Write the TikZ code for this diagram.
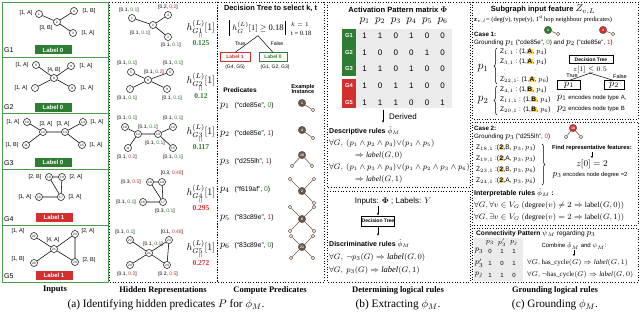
\documentclass[tikz,border=0pt]{standalone}
\usepackage{fontspec}
\usepackage{amsmath,amssymb}
\setmainfont{Liberation Serif}
\setsansfont{Liberation Sans}
\usetikzlibrary{arrows.meta,decorations.pathreplacing}
\definecolor{mygreen}{HTML}{2E7D32}
\definecolor{myred}{HTML}{D32F2F}
\definecolor{mybrown}{HTML}{6B5646}
\definecolor{panelgreen}{HTML}{4E9A4E}
\definecolor{hlyellow}{HTML}{FFD54F}
\definecolor{mgray}{HTML}{EBEBEB}
\newcommand{\gv}[1]{\textcolor{mygreen}{#1}}
\newcommand{\rv}[1]{\textcolor{myred}{#1}}
\newcommand{\fsz}[1]{\fontsize{#1}{#1}\selectfont}
\newcommand{\hlt}[1]{{\setlength{\fboxsep}{0.4pt}\colorbox{hlyellow}{\textbf{#1}}}}
\begin{document}
\begin{tikzpicture}[x=1pt,y=-1pt,
  gnode/.style={circle,draw,line width=0.5pt,fill=white,inner sep=0pt,minimum size=7pt,font=\sffamily\fsz{3.2}},
  glab/.style={inner sep=0pt,font=\sffamily\fsz{5.5}},
  hlab/.style={inner sep=0pt,font=\sffamily\fsz{5}},
  gedge/.style={line width=0.55pt},
  gbox/.style={draw=panelgreen,line width=0.9pt},
  gname/.style={anchor=west,inner sep=0pt,font=\sffamily\fsz{7}},
  lzero/.style={fill=mygreen,text=white,font=\sffamily\bfseries\fsz{6},minimum width=37pt,minimum height=9pt,inner sep=0pt},
  lone/.style={lzero,fill=myred},
  dbox/.style={draw,dotted,line width=0.7pt},
  sect/.style={font=\bfseries\fsz{8.5},inner sep=0pt},
  capt/.style={font=\fsz{11.3},inner sep=0pt},
  hval/.style={inner sep=0pt,font=\fsz{10}},
  ttl/.style={inner sep=0pt,font=\sffamily\bfseries\fsz{7.4}},
  txt/.style={inner sep=0pt,anchor=west,font=\sffamily\fsz{6.6}},
  rule/.style={inner sep=0pt,anchor=west,font=\fsz{7.6}},
  inode/.style={circle,fill=mybrown,draw=black!70,line width=0.3pt,text=white,inner sep=0pt,minimum size=7.5pt,font=\sffamily\bfseries\fsz{3.5}},
  icirc/.style={circle,draw=mybrown,fill=white,inner sep=0pt,minimum size=3.6pt,line width=0.5pt},
  iedge/.style={draw=mybrown,line width=0.6pt},
  arr/.style={-{Latex[length=2.4pt,width=2pt]},line width=0.45pt},
  mval/.style={inner sep=0pt,font=\sffamily\fsz{8}}
]
\useasboundingbox (0,0) rectangle (640,313);

%================ (a) Inputs =================
\draw[gbox] (2,2) rectangle (108,57);
\draw[gbox] (2,57) rectangle (108,113);
\draw[gbox] (2,113) rectangle (108,169);
\draw[gbox] (2,169) rectangle (108,225);
\draw[gbox] (2,225) rectangle (108,282);

% G1
\node[gnode] (i1) at (39,14) {1};
\node[gnode] (i2) at (57,22) {2};
\node[gnode] (i4) at (74,11) {4};
\node[gnode] (i3) at (73,33) {3};
\draw[gedge] (i1)--(i2) (i2)--(i4) (i2)--(i3);
\node[glab] (il1) at (26,13) {[1, A]};
\node[glab] (il2) at (46,28) {[3, B]};
\node[glab] (il4) at (89,11) {[1, B]};
\node[glab] (il3) at (88,33) {[1, A]};
\node[gname] (gn1) at (4,50) {G1};
\node[lzero] (lb1) at (53,50) {Label 0};

% G2
\node[gnode] (i5) at (36,65) {5};
\node[gnode] (i6) at (54,78) {6};
\node[gnode] (i8) at (71,66) {8};
\node[gnode] (i7) at (35,88) {7};
\node[gnode] (i9) at (72,88) {9};
\draw[gedge] (i5)--(i6) (i6)--(i8) (i6)--(i7) (i6)--(i9);
\node[glab] (il5) at (22,65) {[1, A]};
\node[glab] (il6) at (54,70.5) {[4, B]};
\node[glab] (il8) at (86,66) {[1, A]};
\node[glab] (il7) at (21,88) {[1, A]};
\node[glab] (il9) at (87,88) {[1, A]};
\node[gname] (gn2) at (4,107) {G2};
\node[lzero] (lb2) at (53,107) {Label 0};

% G3
\node[gnode] (i10) at (27,122) {10};
\node[gnode] (i12) at (43,132) {12};
\node[gnode] (i13) at (65,132) {13};
\node[gnode] (i14) at (83,122) {14};
\node[gnode] (i11) at (26,145) {11};
\node[gnode] (i15) at (82,145) {15};
\draw[gedge] (i10)--(i12) (i12)--(i13) (i13)--(i14) (i12)--(i11) (i13)--(i15);
\node[glab] (il10) at (13,122) {[1, A]};
\node[glab] (il12) at (46,124) {[3, A]};
\node[glab] (il13) at (63,124) {[3, A]};
\node[glab] (il14) at (97,122) {[1, A]};
\node[glab] (il11) at (12,145) {[1, B]};
\node[glab] (il15) at (96,145) {[1, A]};
\node[gname] (gn3) at (4,163) {G3};
\node[lzero] (lb3) at (53,162) {Label 0};

% G4
\node[gnode] (i18) at (49,177) {18};
\node[gnode] (i19) at (62,177) {19};
\node[gnode] (i16) at (39,197) {16};
\node[gnode] (i17) at (61,197) {17};
\draw[gedge] (i18)--(i19) (i18)--(i17) (i19)--(i17) (i16)--(i17);
\node[glab] (il18) at (35,177) {[2, B]};
\node[glab] (il19) at (76,177) {[2, A]};
\node[glab] (il16) at (25,197) {[1, A]};
\node[glab] (il17) at (75,197) {[3, A]};
\node[gname] (gn4) at (4,219) {G4};
\node[lone] (lb4) at (54,217) {Label 1};

% G5
\node[gnode] (i22) at (34,236) {22};
\node[gnode] (i21) at (54,249) {21};
\node[gnode] (i23) at (75,234) {23};
\node[gnode] (i20) at (34,263) {20};
\node[gnode] (i24) at (75,262) {24};
\draw[gedge] (i22)--(i21) (i21)--(i23) (i21)--(i20) (i21)--(i24) (i23)--(i24);
\node[glab] (il22) at (18,231) {[1, A]};
\node[glab] (il21) at (53,240) {[4, A]};
\node[glab] (il23) at (88,231) {[2, A]};
\node[glab] (il20) at (18,259) {[1, B]};
\node[glab] (il24) at (89,260) {[2, B]};
\node[gname] (gn5) at (4,276) {G5};
\node[lone] (lb5) at (54,275) {Label 1};

%================ Hidden representations =================
\draw[dbox] (109,2) rectangle (217,282);
% G1
\node[gnode] (h1) at (132,18) {1};
\node[gnode] (h2) at (153,25) {2};
\node[gnode] (h4) at (168,15) {4};
\node[gnode] (h3) at (168,37) {3};
\draw[gedge] (h1)--(h2) (h2)--(h4) (h2)--(h3);
\node[hlab] (hl1) at (129,10) {[0.1, \gv{0.1}]};
\node[hlab] (hl4) at (168,7) {[0.2, \rv{0.2}]};
\node[hlab] (hl2) at (140,33) {[0.1, \gv{0.1}]};
\node[hlab] (hl3) at (171,45) {[0.1, \gv{0.1}]};
% G2
\node[gnode] (h5) at (131,72) {5};
\node[gnode] (h6) at (148,80) {6};
\node[gnode] (h8) at (170,72) {8};
\node[gnode] (h7) at (130,89) {7};
\node[gnode] (h9) at (167,89) {9};
\draw[gedge] (h5)--(h6) (h6)--(h8) (h6)--(h7) (h6)--(h9);
\node[hlab] (hl5) at (127,63) {[0.1, \gv{0.1}]};
\node[hlab] (hl8) at (173,63) {[0.1, \gv{0.1}]};
\node[hlab] (hl6) at (154,72) {[0.1, \rv{0.2}]};
\node[hlab] (hl7) at (127,98) {[0.1, \gv{0.1}]};
\node[hlab] (hl9) at (172,98) {[0.1, \gv{0.1}]};
% G3
\node[gnode] (h10) at (125,127) {10};
\node[gnode] (h12) at (138,134) {12};
\node[gnode] (h13) at (158,134) {13};
\node[gnode] (h14) at (173,127) {14};
\node[gnode] (h11) at (128,148) {11};
\node[gnode] (h15) at (173,148) {15};
\draw[gedge] (h10)--(h12) (h12)--(h13) (h13)--(h14) (h12)--(h11) (h13)--(h15);
\node[hlab] (hl10) at (127,118) {[0.1, \gv{0.1}]};
\node[hlab] (hl14) at (173,118) {[0.1, \gv{0.1}]};
\node[hlab] (hl12) at (148,127) {[0.1, \gv{0.1}]};
\node[hlab] (hl13) at (155,143) {[0.1, \gv{0.1}]};
\node[hlab] (hl11) at (127,157) {[0.1, \rv{0.2}]};
\node[hlab] (hl15) at (173,157) {[0.1, \gv{0.1}]};
% G4
\node[gnode] (h18) at (150,182) {18};
\node[gnode] (h19) at (162,182) {19};
\node[gnode] (h16) at (143,202) {16};
\node[gnode] (h17) at (163,202) {17};
\draw[gedge] (h18)--(h19) (h18)--(h17) (h19)--(h17) (h16)--(h17);
\node[hlab] (hl18) at (131,182) {[0.3, \rv{0.5}]};
\node[hlab] (hl19) at (172,173) {[0.3, \rv{0.48}]};
\node[hlab] (hl16) at (126,202) {[0.1, \gv{0.1}]};
\node[hlab] (hl17) at (165,211) {[0.3, \gv{0.1}]};
% G5
\node[gnode] (h22) at (130,240) {22};
\node[gnode] (h21) at (149,253) {21};
\node[gnode] (h23) at (169,240) {23};
\node[gnode] (h20) at (130,265) {20};
\node[gnode] (h24) at (167,265) {24};
\draw[gedge] (h22)--(h21) (h21)--(h23) (h21)--(h20) (h21)--(h24) (h23)--(h24);
\node[hlab] (hl22) at (125,232) {[0.1, \gv{0.1}]};
\node[hlab] (hl23) at (172,232) {[0.1, \rv{0.48}]};
\node[hlab] (hl21) at (153,244) {[0.1, \gv{0.1}]};
\node[hlab] (hl20) at (127,274) {[0.1, \rv{0.2}]};
\node[hlab] (hl24) at (168,274) {[0.2, \rv{0.5}]};
% h values
\foreach \i/\y/\v/\c in {1/27/0.125/mygreen,2/80/0.12/mygreen,3/131/0.117/mygreen,4/192/0.295/myred,5/247/0.272/myred}{
  \node[hval] (hx\i) at (201,\y) {$h^{(L)}_{G\i}[1]$};
  \node[inner sep=0pt,font=\fsz{6}] (he\i) at (201,{\y+8.5}) {\rotatebox{90}{$=$}};
  \node[inner sep=0pt,font=\bfseries\fsz{7.5},text=\c] (hv\i) at (201,{\y+16}) {\v};
}

%================ Compute predicates =================
\draw[dbox] (217,2) rectangle (324,282);
\node[ttl] (dtt) at (270.5,8.5) {Decision Tree to select k, t};
\node[draw,double,double distance=0.6pt,line width=0.4pt,minimum width=56pt,minimum height=15pt,inner sep=0pt,font=\fsz{8.5}] (dt) at (258,28) {$h^{(L)}_{G}[1] \geq$ 0.18};
\node[inner sep=0pt,font=\fsz{6.5},anchor=west] (kk) at (291,24.5) {$k=1$};
\node[inner sep=0pt,font=\fsz{6.5},anchor=west] (tt) at (291,33) {t = 0.18};
\node[draw=myred,text=myred,line width=0.6pt,minimum width=30pt,minimum height=8.5pt,inner sep=0pt,font=\sffamily\bfseries\fsz{5}] (dl1) at (235,57) {Label 1};
\node[draw=mygreen,text=mygreen,line width=0.6pt,minimum width=28pt,minimum height=8.5pt,inner sep=0pt,font=\sffamily\bfseries\fsz{5}] (dl0) at (273,57) {Label 0};
\draw[line width=0.5pt] (dt.south) -- (dl1.north);
\draw[line width=0.5pt] (dt.south) -- (dl0.north);
\node[inner sep=0pt,font=\sffamily\fsz{5.2}] (tr) at (240,44) {True};
\node[inner sep=0pt,font=\sffamily\fsz{5.2}] (fa) at (277,44) {False};
\node[inner sep=0pt,font=\sffamily\fsz{5}] (g45) at (235,67) {(G4, G5)};
\node[inner sep=0pt,font=\sffamily\fsz{5}] (g123) at (275,67) {(G1, G2, G3)};
\node[inner sep=0pt,font=\sffamily\bfseries\fsz{6.6}] (predh) at (240,90) {Predicates};
\node[inner sep=0pt,align=center,font=\sffamily\bfseries\fsz{5.6}] (exh) at (303,89) {Example\\[-0.3pt]Instance};
\foreach \k/\y/\s/\n in {1/106/cde85e/\gv{0},2/134/cde85e/\rv{1},3/162/d255lh/\rv{1},4/190/f619af/\gv{0},5/218/83c89e/\rv{1},6/246/83c89e/\gv{0}}{
  \node[inner sep=0pt,anchor=west] (pp\k) at (220,\y) {\fsz{10}$p_{\k}$\ \ \sffamily\fsz{6.8}(“\s”, \n)};
}
% icons
\node[inode] (q1) at (302,103) {1};
\node[icirc] (q1a) at (313,110) {};
\draw[iedge] (q1)--(q1a);
\node[inode] (q2) at (302,130) {4};
\node[icirc] (q2a) at (313,138) {};
\draw[iedge] (q2)--(q2a);
\node[inode] (q3) at (302,155) {18};
\node[icirc] (q3a) at (292,166) {};
\node[icirc] (q3b) at (312,166) {};
\draw[iedge] (q3)--(q3a) (q3)--(q3b);
\node[inode] (q4) at (302,191) {2};
\node[icirc] (q4a) at (290,179) {};
\node[icirc] (q4b) at (314,179) {};
\node[icirc] (q4c) at (314,203) {};
\draw[iedge] (q4)--(q4a) (q4)--(q4b) (q4)--(q4c);
\node[inode] (q5) at (302,219) {6};
\node[icirc] (q5a) at (290,207) {};
\node[icirc] (q5b) at (314,207) {};
\node[icirc] (q5c) at (290,231) {};
\node[icirc] (q5d) at (314,231) {};
\draw[iedge] (q5)--(q5a) (q5)--(q5b) (q5)--(q5c) (q5)--(q5d);
\node[inode] (q6) at (302,247) {21};
\node[icirc] (q6a) at (291,236) {};
\node[icirc] (q6b) at (313,236) {};
\node[icirc] (q6c) at (291,258) {};
\node[icirc] (q6d) at (313,258) {};
\draw[iedge] (q6)--(q6a) (q6)--(q6b) (q6)--(q6c) (q6)--(q6d);

\node[sect] (s1) at (55,290) {Inputs};
\node[sect] (s2) at (163,290) {Hidden Representations};
\node[sect] (s3) at (270,290) {Compute Predicates};
\node[capt] (ca) at (166,305) {(a) Identifying hidden predicates $P$ for $\phi_M$.};

%================ (b) =================
\draw[dbox] (327,2) rectangle (470,187);
\draw[dbox] (327,191) rectangle (470,282);
\node[ttl,font=\sffamily\bfseries\fsz{7.6}] (apt) at (398,10) {Activation Pattern matrix $\boldsymbol{\Phi}$};
\fill[mgray] (356,29) rectangle (452,108);
\fill[mygreen] (342,29) rectangle (356,76.5);
\fill[myred] (342,79) rectangle (356,108);
\foreach \c in {1,...,6}{
  \node[inner sep=0pt,font=\fsz{10.5}] (ph\c) at ({349+15.6*\c},21) {$p_{\c}$};
}
\foreach \r/\y/\vals in {1/36/{1,1,0,1,0,0},2/52.5/{1,0,0,0,1,0},3/69/{1,1,0,1,0,0},4/86/{1,0,1,1,0,0},5/102.5/{1,1,1,0,0,1}}{
  \node[inner sep=0pt,text=white,font=\sffamily\bfseries\fsz{5.8}] (rg\r) at (349,\y) {G\r};
  \foreach \v [count=\c] in \vals {
    \node[mval] (m\r-\c) at ({349+15.6*\c},\y) {\v};
  }
}
\coordinate (dA) at (383,110);
\coordinate (dB) at (383,123);
\draw[arr] (dA) -- (dB);
\node[inner sep=0pt,anchor=west,font=\sffamily\fsz{8}] (der) at (389,116.5) {Derived};
\node[inner sep=0pt,anchor=west,font=\sffamily\bfseries\fsz{7}] (desc) at (329,131) {Descriptive rules $\hat{\phi}_M$};
\node[rule] (r1) at (329,143.5) {$\forall G,\ (p_1\wedge p_2\wedge p_4){\vee}(p_1\wedge p_5)$};
\node[rule] (r2) at (355,155.5) {$\Rightarrow \mathit{label}(G,0)$};
\node[rule] (r3) at (329,167.5) {$\forall G,\ (p_1\wedge p_3\wedge p_4){\vee}(p_1\wedge p_2\wedge p_3\wedge p_6)$};
\node[rule] (r4) at (355,179.5) {$\Rightarrow \mathit{label}(G,1)$};
\node[inner sep=0pt,font=\sffamily\fsz{8}] (inl) at (393,201) {Inputs: $\boldsymbol{\Phi}$ ;\ Labels: $Y$};
\coordinate (dC) at (378,206);
\node[draw,line width=0.5pt,minimum width=32pt,minimum height=10pt,inner sep=0pt,font=\sffamily\bfseries\fsz{5}] (dtb) at (378,221) {Decision Tree};
\coordinate (dD) at (378,236);
\draw[arr] (dC) -- (dtb.north);
\draw[arr] (dtb.south) -- (dD);
\node[inner sep=0pt,anchor=west,font=\sffamily\bfseries\fsz{7}] (disc) at (329,244) {Discriminative rules $\hat{\phi}_M$};
\node[rule,font=\fsz{8.5}] (r5) at (329,257) {$\forall G,\ \neg p_3(G) \Rightarrow \mathit{label}(G,0)$};
\node[rule,font=\fsz{8.5}] (r6) at (329,270) {$\forall G,\ p_3(G) \Rightarrow \mathit{label}(G,1)$};
\node[sect] (s4) at (398,290) {Determining logical rules};
\node[capt] (cb) at (398,305) {(b) Extracting $\phi_M$.};

%================ (c) =================
\draw[dbox] (472,2) rectangle (638,119);
\draw[dbox] (472,122) rectangle (638,225);
\draw[dbox] (472,228) rectangle (638,282);
\node[ttl,font=\sffamily\bfseries\fsz{7.5}] (sgt) at (543,10) {Subgraph input feature {\fsz{10}$Z_{v,L}$}};
\node[inner sep=0pt,anchor=west,font=\fsz{6.5}] (zl) at (474,20) {$\mathbf{z}_{v,l}$= (deg(v), type(v), 1$^{\text{st}}$ hop neighbour predicates)};
\node[inode,fill=mygreen] (k1) at (548,30) {1};
\node[icirc] (k1a) at (558,34) {};
\draw[iedge] (k1)--(k1a);
\node[inode,fill=myred] (k4) at (603,30) {4};
\node[icirc] (k4a) at (613,34) {};
\draw[iedge] (k4)--(k4a);
\node[txt,font=\sffamily\bfseries\fsz{6.2}] (c1) at (474,34) {Case 1:};
\node[txt,font=\sffamily\fsz{6.3}] (gr1) at (474,43) {Grounding {\fsz{9}$p_1$} (“cde85e”, \gv{0}) and {\fsz{9}$p_2$} (“cde85e”, \rv{1})};
\node[inner sep=0pt,font=\fsz{12}] (bp1l) at (483,68) {$p_1$};
\draw[decorate,decoration={brace,amplitude=3pt},line width=0.5pt] (497,84) -- (497,48);
\node[txt] (z1) at (500,52) {Z$_{1,1}$ :\ (1,\hlt{A}, $p_4$)};
\node[txt] (z3) at (500,62) {Z$_{3,1}$ :\ (1,\hlt{A}, $p_4$)};
\node[inner sep=0pt,font=\fsz{5}] (vd1) at (505,71) {$\vdots$};
\node[inner sep=0pt,font=\fsz{5}] (vd2) at (536,71) {$\vdots$};
\node[txt] (z22) at (500,80) {Z$_{22,1}$: (1,\hlt{A}, $p_6$)};
\node[inner sep=0pt,font=\fsz{12}] (bp2l) at (483,100) {$p_2$};
\draw[decorate,decoration={brace,amplitude=3pt},line width=0.5pt] (497,115) -- (497,86);
\node[txt] (z4) at (500,90) {Z$_{4,1}$ :\ (1,\hlt{B}, $p_4$)};
\node[txt] (z11) at (500,100) {Z$_{11,1}$ : (1,\hlt{B}, $p_4$)};
\node[txt] (z20) at (500,110) {Z$_{20,1}$ : (1,\hlt{B}, $p_6$)};
\node[draw,line width=0.5pt,minimum width=44pt,minimum height=8pt,inner sep=0pt,font=\sffamily\bfseries\fsz{5}] (dtc) at (591,59.5) {Decision Tree};
\node[inner sep=0pt,font=\fsz{6.8}] (zc) at (590,69.5) {$z[1] \leq 0.5$};
\node[draw,line width=0.5pt,minimum width=23pt,minimum height=8.5pt,inner sep=0pt,font=\fsz{10}] (bp1) at (569,85) {$p_1$};
\node[draw,line width=0.5pt,minimum width=20pt,minimum height=8.5pt,inner sep=0pt,font=\fsz{10}] (bp2) at (614,85) {$p_2$};
\draw[line width=0.5pt] (zc.south) -- (bp1.north);
\draw[line width=0.5pt] (zc.south) -- (bp2.north);
\node[inner sep=0pt,font=\sffamily\fsz{5.6}] (ct) at (572,76) {True};
\node[inner sep=0pt,font=\sffamily\fsz{5.6}] (cf) at (620,76) {False};
\node[txt,font=\sffamily\fsz{6}] (en1) at (557,98) {{\fsz{10}$p_1$} encodes node type A,};
\node[txt,font=\sffamily\fsz{6}] (en2) at (557,109) {{\fsz{10}$p_2$} encodes node type B};

\node[txt,font=\sffamily\bfseries\fsz{6.2}] (c2) at (474,128) {Case 2:};
\node[txt,font=\sffamily\fsz{6.3}] (gr2) at (474,137.5) {Grounding {\fsz{9}$p_3$} (“d255lh”, \rv{0})};
\node[inode,fill=myred] (k18) at (573,128) {18};
\node[icirc] (k18a) at (566,137) {};
\node[icirc] (k18b) at (581,137) {};
\draw[iedge] (k18)--(k18a) (k18)--(k18b);
\node[txt] (z18) at (476,148) {Z$_{18,1}$ :(\hlt{2},B, $p_3$, $p_3$)};
\node[txt] (z19) at (476,159) {Z$_{19,1}$ :(\hlt{2},A, $p_3$, $p_3$)};
\node[txt] (z23) at (476,170) {Z$_{23,1}$ :(\hlt{2},B, $p_3$, $p_6$)};
\node[txt] (z24) at (476,181) {Z$_{24,1}$ :(\hlt{2},A, $p_3$, $p_6$)};
\draw[decorate,decoration={brace,amplitude=3pt},line width=0.5pt] (542,144) -- (542,185);
\node[inner sep=0pt,font=\sffamily\bfseries\fsz{5.8}] (frf) at (592,148) {Find representative features:};
\coordinate (fA) at (592,152);
\coordinate (fB) at (592,158.5);
\draw[arr] (fA) -- (fB);
\node[inner sep=0pt,font=\fsz{9}] (z0) at (592,164.5) {$z[0] = 2$};
\node[inner sep=0pt,font=\sffamily\fsz{5.8}] (p3e) at (590,175.5) {{\fsz{9}$p_3$} encodes node degree =2};
\node[txt,font=\sffamily\bfseries\fsz{7}] (intr) at (474,193) {Interpretable rules $\hat{\phi}_M$ :};
\node[rule,font=\fsz{7.6}] (ir1) at (474,205) {$\forall G, \forall v \in V_G\ (\mathrm{degree}(v) \neq 2 \Rightarrow \mathrm{label}(G,0))$};
\node[rule,font=\fsz{7.6}] (ir2) at (474,217) {$\forall G, \exists v \in V_G\ (\mathrm{degree}(v) = 2 \Rightarrow \mathrm{label}(G,1))$};

\node[txt,font=\sffamily\fsz{6.6}] (cpt) at (476,234) {\textbf{Connectivity Pattern} $\psi_M$ regarding {\fsz{9}$p_3$}};
\fill[mgray] (474,238) rectangle (523,281);
\node[inner sep=0pt,font=\fsz{7.5}] (ch1) at (490,242.5) {$p_3$};
\node[inner sep=0pt,font=\fsz{7.5}] (ch2) at (502,242.5) {$p_3'$};
\node[inner sep=0pt,font=\fsz{7.5}] (ch3) at (514,242.5) {$p_j$};
\foreach \r/\y/\lab/\vals in {1/251/p_3/{0,1,1},2/263/p_3'/{1,0,1},3/275/p_j/{1,1,0}}{
  \node[inner sep=0pt,font=\fsz{8.5}] (cr\r) at (479,\y) {$\lab$};
  \foreach \v [count=\c] in \vals {
    \node[inner sep=0pt,font=\sffamily\fsz{6}] (cm\r-\c) at ({478+12*\c},\y) {\v};
  }
}
\node[inner sep=0pt,font=\sffamily\fsz{6}] (cmb) at (574,245.5) {Combine $\hat{\phi}_M$ and $\psi_M$:};
\coordinate (cA) at (574,250);
\coordinate (cB) at (574,256.5);
\draw[arr] (cA) -- (cB);
\node[rule,font=\fsz{6.9}] (cr1) at (527,263) {$\forall G, \mathrm{has\_cycle}(G) \Rightarrow \mathit{label}(G,1)$};
\node[rule,font=\fsz{6.9}] (cr2) at (527,275) {$\forall G, \neg\mathrm{has\_cycle}(G) \Rightarrow \mathit{label}(G,0)$};
\node[sect] (s5) at (555,290) {Grounding logical rules};
\node[capt] (cc) at (555,305) {(c) Grounding $\phi_M$.};
\end{tikzpicture}
\end{document}
